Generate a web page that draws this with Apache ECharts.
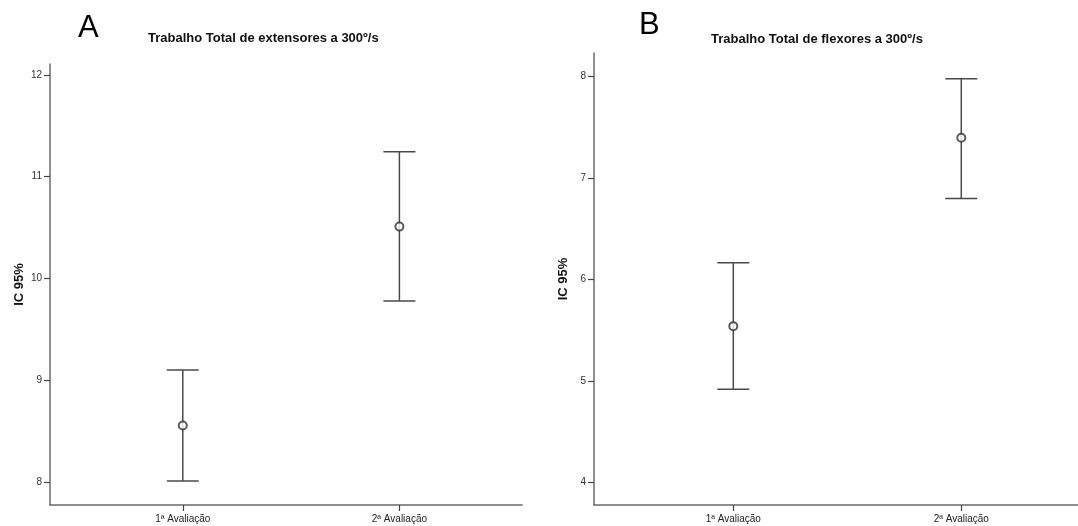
<!DOCTYPE html>
<html>
<head>
<meta charset="utf-8">
<style>html,body{margin:0;padding:0;background:#fff;}#c{width:1078px;height:526px;}</style>
<script src="https://cdn.jsdelivr.net/npm/echarts@6/dist/echarts.min.js"></script>
</head>
<body>
<div id="c"></div>
<script>
const categories = ['1ª Avaliação', '2ª Avaliação'];
const titleA = 'Trabalho Total de extensores a 300º/s';
const titleB = 'Trabalho Total de flexores a 300º/s';
const yTicksA = [8, 9, 10, 11, 12];
const yTicksB = [4, 5, 6, 7, 8];
// panel A: extensores
const meanA = [8.555, 10.51];
const lowerA = [8.01, 9.78];
const upperA = [9.10, 11.245];
// panel B: flexores
const meanB = [5.54, 7.398];
const lowerB = [4.917, 6.80];
const upperB = [6.166, 7.98];

const chart = echarts.init(document.getElementById('c'), null, {renderer: 'canvas'});
const FONT = 'Liberation Sans';
const AX = '#6a6a6a';
const BAR = '#4a4a4a';

function errData(lo, hi) { return categories.map((c, i) => [i + 1, lo[i], hi[i]]); }
function meanData(m) { return categories.map((c, i) => [i + 1, m[i]]); }

function renderErr(params, api) {
  const x = api.value(0);
  const lo = api.coord([x, api.value(1)]);
  const hi = api.coord([x, api.value(2)]);
  const hw = 16;
  const st = {stroke: BAR, lineWidth: 1.5};
  return {type: 'group', children: [
    {type: 'line', shape: {x1: lo[0], y1: lo[1], x2: hi[0], y2: hi[1]}, style: st},
    {type: 'line', shape: {x1: lo[0] - hw, y1: lo[1], x2: lo[0] + hw, y2: lo[1]}, style: st},
    {type: 'line', shape: {x1: hi[0] - hw, y1: hi[1], x2: hi[0] + hw, y2: hi[1]}, style: st}
  ]};
}

function xAxisCfg(gi, min, max) {
  return {
    type: 'value', gridIndex: gi, min: min, max: max,
    axisLine: {show: true, onZero: false, lineStyle: {color: AX, width: 1.5}},
    axisTick: {show: true, customValues: [1, 2], length: 6, lineStyle: {color: '#444', width: 1.2}},
    axisLabel: {customValues: [1, 2], formatter: v => categories[Math.round(v) - 1] || '', color: '#222', fontSize: 10, fontFamily: FONT, margin: 9},
    splitLine: {show: false}
  };
}
function yAxisCfg(gi, min, max, ticks, gap) {
  return {
    type: 'value', gridIndex: gi, min: min, max: max,
    name: 'IC 95%', nameLocation: 'middle', nameGap: gap, nameRotate: 90,
    nameTextStyle: {fontFamily: FONT, fontSize: 13, fontWeight: 'bold', color: '#111'},
    axisLine: {show: true, onZero: false, lineStyle: {color: AX, width: 1.5}},
    axisTick: {show: true, customValues: ticks, length: 6, lineStyle: {color: '#444', width: 1.2}},
    axisLabel: {customValues: ticks, color: '#333', fontSize: 10, fontFamily: FONT, margin: 8},
    splitLine: {show: false}
  };
}

chart.setOption({
  animation: false,
  backgroundColor: '#fff',
  title: [
    {text: 'A', left: 73, top: 8, textStyle: {fontFamily: FONT, fontSize: 31, fontWeight: 'normal', color: '#000'}},
    {text: titleA, left: 143, top: 27, textStyle: {fontFamily: FONT, fontSize: 13, fontWeight: 'bold', color: '#111'}},
    {text: 'B', left: 634, top: 5, textStyle: {fontFamily: FONT, fontSize: 31, fontWeight: 'normal', color: '#000'}},
    {text: titleB, left: 706, top: 28, textStyle: {fontFamily: FONT, fontSize: 13, fontWeight: 'bold', color: '#111'}}
  ],
  grid: [
    {left: 50, top: 64, width: 472, height: 441},
    {left: 594, top: 53, width: 484, height: 452}
  ],
  xAxis: [xAxisCfg(0, 0.387, 2.566), xAxisCfg(1, 0.389, 2.512)],
  yAxis: [yAxisCfg(0, 7.774, 12.108, yTicksA, 24), yAxisCfg(1, 3.776, 8.234, yTicksB, 24)],
  series: [
    {type: 'custom', xAxisIndex: 0, yAxisIndex: 0, renderItem: renderErr, data: errData(lowerA, upperA), encode: {x: 0, y: [1, 2]}, z: 2},
    {type: 'scatter', xAxisIndex: 0, yAxisIndex: 0, symbol: 'emptyCircle', symbolSize: 8, itemStyle: {color: '#333', borderColor: '#333', borderWidth: 1.2}, data: meanData(meanA), z: 3},
    {type: 'custom', xAxisIndex: 1, yAxisIndex: 1, renderItem: renderErr, data: errData(lowerB, upperB), encode: {x: 0, y: [1, 2]}, z: 2},
    {type: 'scatter', xAxisIndex: 1, yAxisIndex: 1, symbol: 'emptyCircle', symbolSize: 8, itemStyle: {color: '#333', borderColor: '#333', borderWidth: 1.2}, data: meanData(meanB), z: 3}
  ]
});
</script>
</body>
</html>
